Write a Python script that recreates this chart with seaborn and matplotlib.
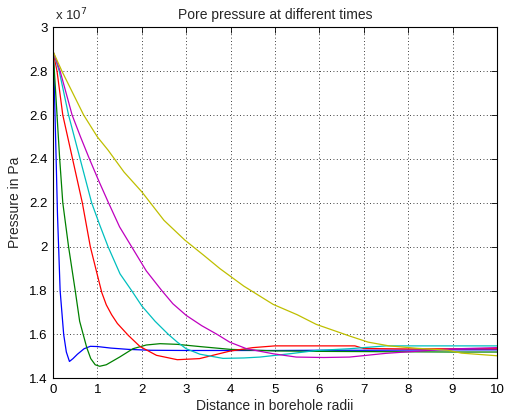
import numpy as np
import pandas as pd
import matplotlib
matplotlib.use("Agg")
import matplotlib.pyplot as plt
from matplotlib.ticker import FuncFormatter, MultipleLocator
import seaborn as sns

# ---- data (distance in borehole radii, pressure in units of 1e7 Pa) ----
blue_x = [0, 0.02, 0.045, 0.07, 0.1, 0.16, 0.24, 0.3, 0.37, 0.45, 0.55, 0.7, 0.84, 1.0, 1.3, 1.7, 2.2, 3, 4, 5, 6, 7, 8, 9, 10]
blue_y = [2.89, 2.80, 2.60, 2.40, 2.15, 1.80, 1.60, 1.52, 1.477, 1.49, 1.51, 1.535, 1.546, 1.545, 1.538, 1.532, 1.528, 1.527, 1.527, 1.527, 1.528, 1.528, 1.529, 1.53, 1.53]

green_x = [0, 0.03, 0.09, 0.15, 0.22, 0.35, 0.5, 0.6, 0.68, 0.76, 0.85, 0.95, 1.05, 1.2, 1.5, 1.8, 2.1, 2.41, 2.8, 3.3, 4.0, 5, 6, 7, 8, 9, 10]
green_y = [2.89, 2.80, 2.60, 2.40, 2.20, 2.00, 1.80, 1.66, 1.60, 1.54, 1.49, 1.462, 1.455, 1.462, 1.497, 1.535, 1.552, 1.558, 1.555, 1.545, 1.532, 1.525, 1.523, 1.522, 1.521, 1.52, 1.52]

red_x = [0, 0.09, 0.22, 0.33, 0.44, 0.55, 0.66, 0.84, 1.0, 1.1, 1.2, 1.32, 1.45, 1.7, 1.96, 2.33, 2.8, 3.3, 3.98, 4.5, 5.0, 6.0, 6.8, 7.0, 8.0, 9.0, 10.0]
red_y = [2.89, 2.80, 2.60, 2.50, 2.40, 2.30, 2.20, 2.00, 1.87, 1.79, 1.735, 1.69, 1.65, 1.595, 1.545, 1.505, 1.485, 1.49, 1.524, 1.54, 1.548, 1.548, 1.548, 1.536, 1.534, 1.535, 1.535]

cyan_x = [0, 0.14, 0.35, 0.61, 0.87, 1.05, 1.24, 1.51, 1.77, 2.0, 2.3, 2.6, 2.8, 3.0, 3.31, 3.83, 4.3, 4.66, 5.33, 5.93, 6.68, 7.5, 8, 9, 10]
cyan_y = [2.89, 2.80, 2.60, 2.40, 2.20, 2.10, 2.00, 1.876, 1.80, 1.73, 1.66, 1.60, 1.565, 1.535, 1.51, 1.491, 1.493, 1.497, 1.512, 1.527, 1.535, 1.548, 1.548, 1.548, 1.548]

magenta_x = [0, 0.16, 0.43, 0.62, 0.82, 1.03, 1.25, 1.5, 1.77, 2.1, 2.45, 2.7, 3.0, 3.35, 3.7, 3.98, 4.36, 4.96, 5.48, 6.1, 6.68, 7.5, 8.3, 8.96, 10]
magenta_y = [2.89, 2.80, 2.60, 2.50, 2.40, 2.30, 2.20, 2.09, 2.00, 1.89, 1.80, 1.74, 1.687, 1.64, 1.60, 1.565, 1.535, 1.512, 1.497, 1.495, 1.497, 1.514, 1.525, 1.534, 1.54]

yellow_x = [0, 0.2, 0.69, 1.0, 1.24, 1.6, 2.0, 2.5, 2.97, 3.4, 3.76, 4.3, 4.96, 5.5, 5.93, 6.68, 7.1, 7.57, 8.2, 8.9, 9.2, 10]
yellow_y = [2.89, 2.80, 2.60, 2.50, 2.44, 2.34, 2.25, 2.12, 2.03, 1.96, 1.90, 1.82, 1.737, 1.69, 1.646, 1.593, 1.565, 1.548, 1.537, 1.528, 1.515, 1.503]

series_names = ["t1", "t2", "t3", "t4", "t5", "t6"]
series_x = [blue_x, green_x, red_x, cyan_x, magenta_x, yellow_x]
series_y = [blue_y, green_y, red_y, cyan_y, magenta_y, yellow_y]
SCALE = 1e7

frames = []
for name, xs, ys in zip(series_names, series_x, series_y):
    frames.append(pd.DataFrame({"distance": xs,
                                "pressure": np.array(ys) * SCALE,
                                "series": name}))
df = pd.concat(frames, ignore_index=True)

colors = [(0, 0, 1), (0, 0.5, 0), (1, 0, 0), (0, 0.75, 0.75), (0.75, 0, 0.75), (0.75, 0.75, 0)]

sns.set_style("white")
plt.rcParams["font.family"] = ["Liberation Sans", "DejaVu Sans"]

fig = plt.figure(figsize=(5.05, 4.19), dpi=100)
ax = fig.add_axes([0.105, 0.097, 0.879, 0.838])

sns.lineplot(data=df, x="distance", y="pressure", hue="series", palette=colors,
             estimator=None, sort=False, units="series", legend=False, linewidth=0.9, ax=ax)

ax.set_xlim(0, 10)
ax.set_ylim(1.4e7, 3.0e7)
ax.xaxis.set_major_locator(MultipleLocator(1))
ax.yaxis.set_major_locator(MultipleLocator(0.2e7))
ax.yaxis.set_major_formatter(FuncFormatter(lambda v, p: "%g" % round(v / SCALE, 2)))
ax.xaxis.set_major_formatter(FuncFormatter(lambda v, p: "%g" % v))

ax.grid(True, color="black", linestyle=(0, (1, 3)), linewidth=0.6)
ax.tick_params(direction="in", length=4, width=0.6, top=True, right=True,
               labelsize=9.5, colors="black", pad=4)
for s in ax.spines.values():
    s.set_color("black")
    s.set_linewidth(0.8)

ax.set_title("Pore pressure at different times", fontsize=10, pad=6)
ax.set_xlabel("Distance in borehole radii", fontsize=10, labelpad=2)
ax.set_ylabel("Pressure in Pa", fontsize=10, labelpad=5)
ax.text(0.005, 1.01, r"x 10$^{7}$", transform=ax.transAxes, fontsize=9.5,
        ha="left", va="bottom")

fig.savefig("out.png", dpi=100)
